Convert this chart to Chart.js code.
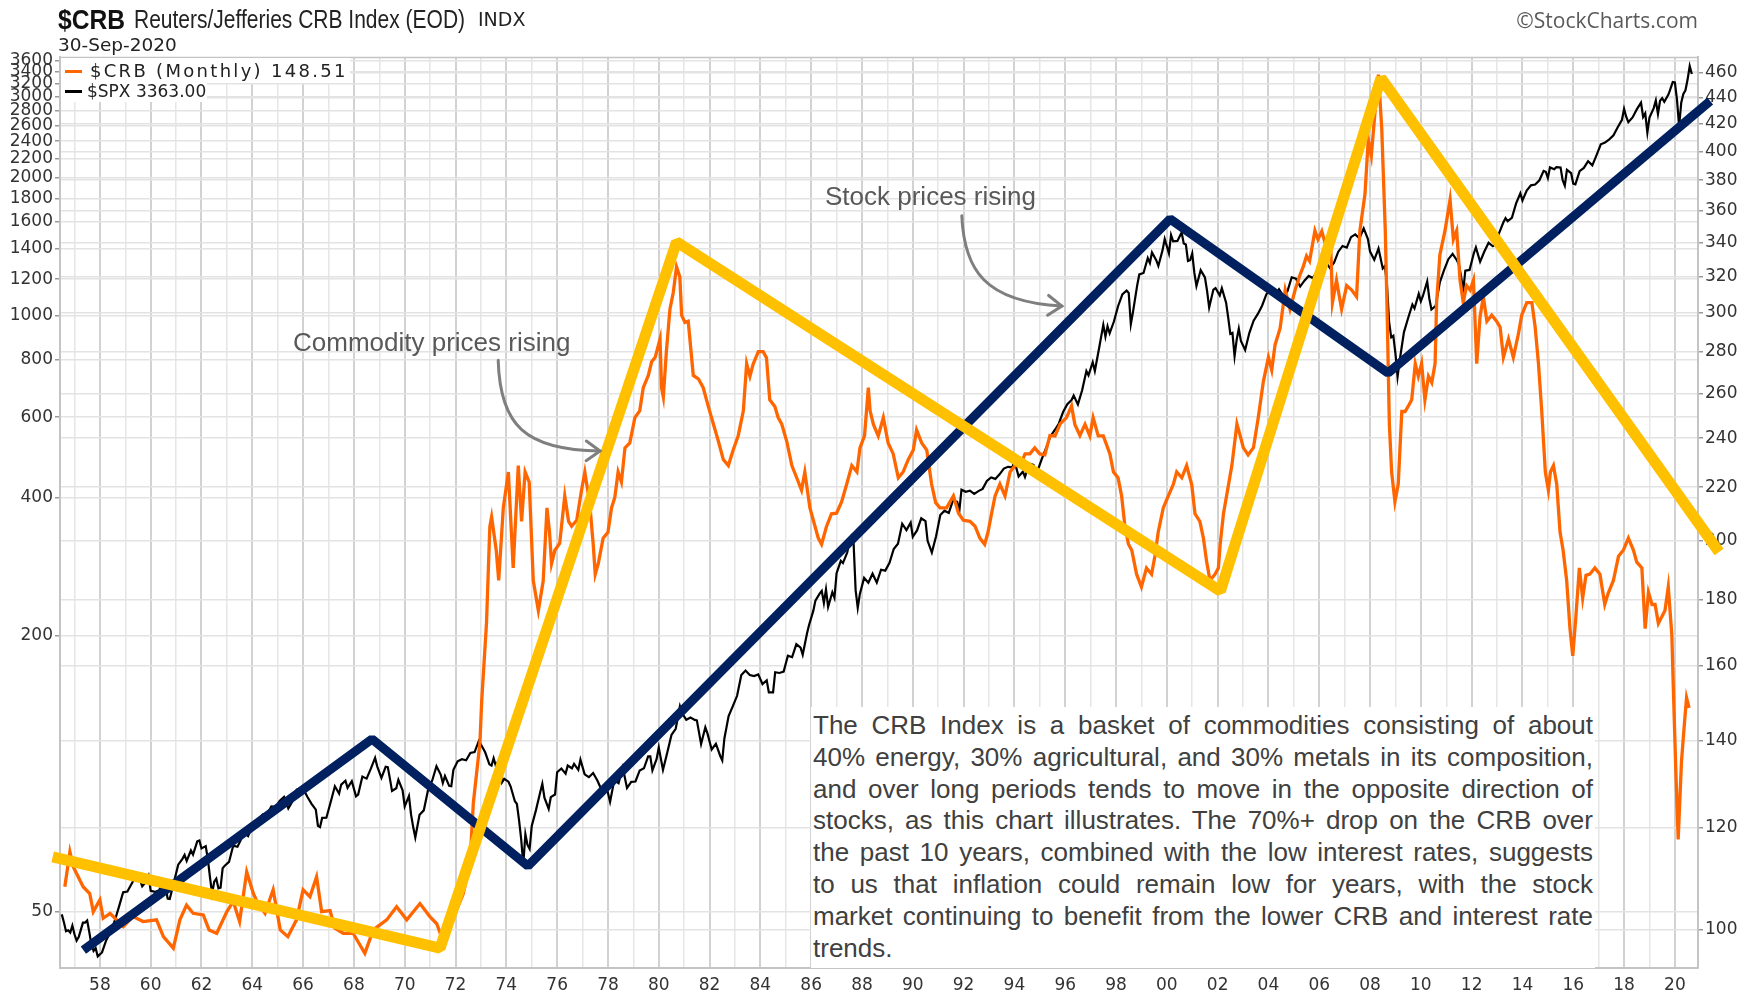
<!DOCTYPE html>
<html>
<head>
<meta charset="utf-8">
<title>$CRB vs $SPX</title>
<script src="https://cdn.jsdelivr.net/npm/chart.js@4.4.0/dist/chart.umd.min.js"></script>
<style>
  body { margin: 0; background: #fff; }
  #wrap { position: relative; width: 1756px; height: 995px; overflow: hidden; }
  #chart { position: absolute; left: 0; top: 0; }
  .txt { position: absolute; white-space: nowrap; }
  #sym { left: 58px; top: 4px; line-height: 30px; font: bold 28px "Liberation Sans", sans-serif; color: #111;
         transform: scaleX(0.88); transform-origin: left center; }
  #name { left: 134px; top: 5px; line-height: 30px; font: 25px "Liberation Sans", sans-serif; color: #222;
          transform: scaleX(0.84); transform-origin: left center; }
  #exch { left: 478px; top: 8px; line-height: 24px; font: 19px "DejaVu Sans", sans-serif; color: #222; }
  #date { left: 58px; top: 34px; line-height: 22px; font: 18.5px "DejaVu Sans", sans-serif; color: #222; }
  #mark { right: 58px; top: 6px; line-height: 26px; font: 21px "Open Sans", sans-serif; color: #5a5a5a; }
  .leg { position: absolute; background: #fff; }
  .dash { position: absolute; width: 17px; height: 3px; }
  .legtxt { position: absolute; top: 0; white-space: nowrap; font-family: "DejaVu Sans", sans-serif; color: #222; }
  .note-a { line-height: 30px; font: 26px "Liberation Sans", Arial, sans-serif; color: #595959; }
  #note { position: absolute; left: 811px; top: 707px; width: 784px; height: 261px; background: #fff; }
  #note .ln { position: absolute; left: 2px; width: 780px; height: 32px; line-height: 32px;
              font: 26px "Liberation Sans", Arial, sans-serif; color: #404040;
              text-align: justify; text-align-last: justify; }
  #note .ln.last { text-align-last: left; }
</style>
</head>
<body>
<div id="wrap">
  <canvas id="chart" width="1756" height="995"></canvas>

  <div class="txt" id="sym">$CRB</div>
  <div class="txt" id="name">Reuters/Jefferies CRB Index (EOD)</div>
  <div class="txt" id="exch">INDX</div>
  <div class="txt" id="date">30-Sep-2020</div>
  <div class="txt" id="mark">©StockCharts.com</div>

  <div class="leg" style="left:61px; top:58px; width:289px; height:25px;">
    <div class="dash" style="left:4px; top:12px; background:#ff6600;"></div>
    <div class="legtxt" style="left:29px; line-height:26px; font-size:18px; letter-spacing:2.3px;">$CRB (Monthly) 148.51</div>
  </div>
  <div class="leg" style="left:61px; top:83px; width:146px; height:19px;">
    <div class="dash" style="left:4px; top:7px; background:#000;"></div>
    <div class="legtxt" style="left:26px; line-height:17px; font-size:17px;">$SPX 3363.00</div>
  </div>

  <div class="txt note-a" style="left:293px; top:327px;">Commodity prices rising</div>
  <div class="txt note-a" style="left:825px; top:181px;">Stock prices rising</div>

  <div id="note"></div>
</div>

<script>
// axis ticks
const spxTicks = [50, 200, 400, 600, 800, 1000, 1200, 1400, 1600, 1800, 2000,
  2200, 2400, 2600, 2800, 3000, 3200, 3400, 3600];
const crbTicks = [100, 120, 140, 160, 180, 200, 220, 240, 260, 280, 300,
  320, 340, 360, 380, 400, 420, 440, 460];
const firstYear = 1957;
const lastYear = 2020;

// visible ranges
const xMin = 1956.43, xMax = 2020.91;
const spxMin = 37.74, spxMax = 3664;
const crbMin = 93.44, crbMax = 473.2;

// $SPX monthly closes
const spxMonths = [
  '1956-07','1956-08','1956-09','1956-10','1956-11','1956-12','1957-01','1957-02','1957-03','1957-04',
  '1957-05','1957-06','1957-07','1957-08','1957-09','1957-10','1957-11','1957-12','1958-02','1958-04',
  '1958-06','1958-08','1958-10','1958-12','1959-02','1959-04','1959-05','1959-07','1959-09','1959-11',
  '1959-12','1960-01','1960-03','1960-05','1960-06','1960-07','1960-08','1960-09','1960-10','1960-12',
  '1961-02','1961-04','1961-05','1961-06','1961-08','1961-09','1961-11','1961-12','1962-01','1962-03',
  '1962-04','1962-05','1962-06','1962-07','1962-08','1962-09','1962-10','1962-11','1962-12','1963-02',
  '1963-04','1963-06','1963-08','1963-10','1963-11','1963-12','1964-03','1964-06','1964-08','1964-10',
  '1964-12','1965-02','1965-04','1965-06','1965-08','1965-10','1965-12','1966-01','1966-03','1966-05',
  '1966-07','1966-08','1966-09','1966-10','1966-12','1967-02','1967-04','1967-06','1967-07','1967-09',
  '1967-10','1967-12','1968-02','1968-03','1968-05','1968-07','1968-09','1968-11','1968-12','1969-02',
  '1969-04','1969-05','1969-06','1969-07','1969-09','1969-10','1969-12','1970-01','1970-03','1970-04',
  '1970-05','1970-06','1970-08','1970-10','1970-12','1971-02','1971-04','1971-06','1971-07','1971-08',
  '1971-10','1971-11','1971-12','1972-02','1972-04','1972-06','1972-08','1972-10','1972-12','1973-01',
  '1973-03','1973-05','1973-06','1973-07','1973-08','1973-10','1973-11','1973-12','1974-02','1974-03',
  '1974-05','1974-06','1974-07','1974-08','1974-09','1974-10','1974-11','1974-12','1975-01','1975-03',
  '1975-05','1975-06','1975-07','1975-09','1975-10','1975-12','1976-01','1976-03','1976-05','1976-06',
  '1976-08','1976-09','1976-11','1976-12','1977-02','1977-04','1977-06','1977-08','1977-10','1977-12',
  '1978-02','1978-04','1978-06','1978-08','1978-10','1978-12','1979-02','1979-04','1979-06','1979-08',
  '1979-09','1979-10','1979-12','1980-01','1980-03','1980-05','1980-07','1980-09','1980-11','1980-12',
  '1981-02','1981-04','1981-06','1981-07','1981-09','1981-11','1981-12','1982-02','1982-04','1982-06',
  '1982-07','1982-08','1982-10','1982-12','1983-02','1983-04','1983-06','1983-08','1983-10','1983-12',
  '1984-02','1984-04','1984-05','1984-07','1984-08','1984-10','1984-12','1985-02','1985-04','1985-06',
  '1985-08','1985-09','1985-11','1985-12','1986-02','1986-03','1986-05','1986-06','1986-07','1986-08',
  '1986-09','1986-11','1986-12','1987-01','1987-03','1987-04','1987-06','1987-07','1987-08','1987-09',
  '1987-10','1987-11','1987-12','1988-02','1988-04','1988-06','1988-08','1988-10','1988-12','1989-02',
  '1989-04','1989-06','1989-08','1989-10','1989-12','1990-01','1990-03','1990-05','1990-07','1990-08',
  '1990-10','1990-12','1991-02','1991-04','1991-06','1991-08','1991-10','1991-11','1991-12','1992-02',
  '1992-04','1992-06','1992-08','1992-10','1992-12','1993-02','1993-04','1993-06','1993-08','1993-10',
  '1993-12','1994-01','1994-03','1994-05','1994-06','1994-08','1994-10','1994-11','1994-12','1995-02',
  '1995-04','1995-06','1995-08','1995-10','1995-12','1996-02','1996-04','1996-05','1996-07','1996-09',
  '1996-11','1996-12','1997-02','1997-03','1997-05','1997-07','1997-08','1997-09','1997-10','1997-12',
  '1998-02','1998-04','1998-06','1998-07','1998-08','1998-09','1998-11','1998-12','1999-02','1999-04',
  '1999-05','1999-06','1999-08','1999-09','1999-11','1999-12','2000-02','2000-03','2000-04','2000-06',
  '2000-08','2000-09','2000-10','2000-11','2000-12','2001-01','2001-02','2001-03','2001-05','2001-07',
  '2001-08','2001-09','2001-11','2001-12','2002-02','2002-03','2002-05','2002-06','2002-07','2002-08',
  '2002-09','2002-10','2002-11','2002-12','2003-02','2003-04','2003-06','2003-08','2003-10','2003-12',
  '2004-02','2004-04','2004-06','2004-08','2004-10','2004-12','2005-02','2005-04','2005-06','2005-08',
  '2005-10','2005-12','2006-02','2006-04','2006-06','2006-08','2006-10','2006-12','2007-02','2007-04',
  '2007-06','2007-08','2007-10','2007-12','2008-01','2008-03','2008-05','2008-07','2008-08','2008-09',
  '2008-10','2008-11','2008-12','2009-01','2009-02','2009-03','2009-05','2009-07','2009-09','2009-10',
  '2009-12','2010-01','2010-02','2010-04','2010-05','2010-06','2010-08','2010-10','2010-12','2011-02',
  '2011-04','2011-06','2011-07','2011-08','2011-09','2011-10','2011-12','2012-02','2012-03','2012-05',
  '2012-07','2012-09','2012-11','2012-12','2013-02','2013-04','2013-05','2013-06','2013-08','2013-10',
  '2013-12','2014-01','2014-03','2014-05','2014-07','2014-09','2014-11','2014-12','2015-01','2015-02',
  '2015-04','2015-05','2015-07','2015-08','2015-09','2015-10','2015-12','2016-01','2016-02','2016-04',
  '2016-06','2016-08','2016-10','2016-12','2017-02','2017-04','2017-06','2017-08','2017-10','2017-12',
  '2018-01','2018-02','2018-03','2018-05','2018-07','2018-09','2018-10','2018-11','2018-12','2019-01',
  '2019-03','2019-04','2019-05','2019-06','2019-07','2019-08','2019-10','2019-12','2020-01','2020-02',
  '2020-03','2020-04','2020-05','2020-06','2020-07','2020-08','2020-09'
];
const spxValues = [
  49.4, 47.5, 45.4, 45.6, 45.1, 46.7, 44.7, 43.3, 44.1, 45.7,
  47.4, 47.4, 47.9, 45.2, 42.4, 41.1, 41.7, 40.0, 40.8, 43.4,
  45.2, 47.8, 51.3, 55.2, 55.4, 57.6, 58.7, 60.5, 56.9, 58.3,
  59.9, 55.6, 55.3, 55.8, 56.9, 55.5, 56.9, 53.5, 53.4, 58.1,
  63.4, 65.3, 66.6, 64.6, 68.1, 66.7, 71.3, 71.6, 68.8, 69.6,
  65.2, 59.6, 54.8, 58.2, 59.1, 56.3, 56.5, 62.3, 63.1, 64.3,
  69.8, 69.4, 72.5, 74.0, 73.2, 75.0, 79.0, 81.7, 81.8, 85.0,
  84.8, 87.4, 89.1, 84.1, 87.2, 92.4, 92.4, 92.9, 89.2, 86.1,
  83.6, 77.1, 76.6, 80.2, 80.3, 86.8, 94.0, 90.6, 94.8, 96.7,
  93.3, 96.5, 89.4, 90.2, 98.7, 97.7, 102.7, 108.4, 103.9, 98.1,
  103.7, 103.5, 97.7, 91.8, 93.1, 97.1, 92.1, 85.0, 89.6, 81.5,
  76.6, 72.7, 81.5, 83.3, 92.2, 96.8, 103.95, 99.7, 95.6, 99.0,
  94.2, 94.0, 102.1, 106.6, 107.7, 107.1, 111.1, 111.6, 118.05, 116.0,
  111.5, 104.95, 104.3, 108.2, 104.3, 108.3, 96.0, 97.6, 96.2, 94.0,
  87.3, 86.0, 79.3, 72.2, 63.5, 73.9, 70.0, 68.6, 77.0, 83.4,
  91.2, 95.2, 88.75, 83.9, 89.0, 90.2, 100.9, 102.8, 100.2, 104.3,
  102.9, 105.2, 102.1, 107.5, 99.8, 98.4, 100.5, 96.8, 92.3, 95.1,
  87.0, 97.0, 95.5, 103.3, 93.2, 96.1, 96.3, 101.8, 102.9, 109.3,
  109.3, 101.8, 107.9, 114.2, 102.1, 111.2, 121.7, 125.5, 140.5, 135.8,
  131.3, 132.8, 131.2, 130.9, 116.2, 126.4, 122.6, 113.1, 116.4, 109.6,
  107.1, 119.5, 133.7, 140.6, 148.1, 164.4, 168.1, 164.4, 163.6, 164.9,
  157.1, 160.1, 150.6, 150.7, 166.7, 166.1, 167.2, 181.2, 179.8, 191.9,
  188.6, 182.1, 202.2, 211.3, 226.9, 238.9, 247.4, 250.8, 236.1, 252.9,
  231.3, 249.2, 242.2, 274.1, 291.7, 288.4, 304.0, 318.7, 329.8, 321.8,
  251.8, 230.3, 247.1, 267.8, 261.3, 273.5, 261.5, 279.0, 277.7, 288.9,
  309.6, 318.0, 351.5, 340.4, 353.4, 329.1, 339.9, 361.2, 356.2, 322.6,
  304.0, 330.2, 367.1, 375.3, 371.2, 395.4, 392.5, 375.2, 417.1, 412.7,
  415.0, 408.1, 414.0, 418.7, 435.7, 443.4, 440.2, 450.5, 463.6, 467.8,
  466.5, 481.6, 445.8, 456.5, 444.3, 475.5, 472.4, 453.7, 459.3, 487.4,
  514.7, 544.8, 562.1, 581.5, 615.9, 640.4, 654.2, 669.1, 639.9, 687.3,
  757.0, 740.7, 790.8, 757.1, 848.3, 954.3, 899.5, 947.3, 914.6, 970.4,
  1049.3, 1111.8, 1133.8, 1120.7, 957.3, 1017.0, 1163.6, 1229.2, 1238.3, 1335.2,
  1301.8, 1372.7, 1320.4, 1282.7, 1389.0, 1469.3, 1366.4, 1498.6, 1452.4, 1454.6,
  1517.7, 1436.5, 1429.4, 1315.2, 1320.3, 1366.0, 1239.9, 1160.3, 1255.8, 1211.2,
  1133.6, 1040.9, 1139.5, 1148.1, 1106.7, 1147.4, 1067.1, 989.8, 911.6, 916.1,
  815.3, 885.8, 936.3, 879.8, 841.2, 916.9, 974.5, 1008.0, 1050.7, 1111.9,
  1145.0, 1107.3, 1140.8, 1104.2, 1130.2, 1211.9, 1203.6, 1156.9, 1191.3, 1220.3,
  1207.0, 1248.3, 1280.7, 1310.6, 1270.2, 1303.8, 1377.9, 1418.3, 1406.8, 1482.4,
  1503.4, 1474.0, 1549.4, 1468.4, 1378.6, 1322.7, 1400.4, 1267.4, 1282.8, 1166.4,
  968.8, 896.2, 903.3, 825.9, 735.1, 797.9, 919.1, 987.5, 1057.1, 1036.2,
  1115.1, 1073.9, 1104.5, 1186.7, 1089.4, 1030.7, 1049.3, 1183.3, 1257.6, 1327.2,
  1363.6, 1320.6, 1292.3, 1218.9, 1131.4, 1253.3, 1257.6, 1365.7, 1408.5, 1310.3,
  1379.3, 1440.7, 1416.2, 1426.2, 1514.7, 1597.6, 1630.7, 1606.3, 1633.0, 1756.5,
  1848.4, 1782.6, 1872.3, 1923.6, 1930.7, 1972.3, 2067.6, 2058.9, 1995.0, 2104.5,
  2085.5, 2107.4, 2103.8, 1972.2, 1920.0, 2079.4, 2043.9, 1940.2, 1932.2, 2065.3,
  2098.9, 2171.0, 2126.2, 2238.8, 2363.6, 2384.2, 2423.4, 2471.7, 2575.3, 2673.6,
  2823.8, 2713.8, 2640.9, 2705.3, 2816.3, 2914.0, 2711.7, 2760.2, 2506.9, 2704.1,
  2834.4, 2945.8, 2752.1, 2941.8, 2980.4, 2926.5, 3037.6, 3230.8, 3225.5, 2954.2,
  2584.6, 2912.4, 3044.3, 3100.3, 3271.1, 3500.3, 3363.0
];

// $CRB monthly, positions (decimal years)
const crbDates = [
  1956.62, 1956.82, 1956.95, 1957.34, 1957.6, 1957.74, 1958.0, 1958.13, 1958.4, 1958.92,
  1959.3, 1959.7, 1960.23, 1960.5, 1960.89, 1961.15, 1961.41, 1961.67, 1962.07, 1962.3,
  1962.6, 1963.0, 1963.25, 1963.5, 1963.78, 1964.04, 1964.2, 1964.5, 1964.82, 1965.1,
  1965.4, 1965.74, 1966.0, 1966.27, 1966.53, 1966.73, 1967.06, 1967.25, 1967.58, 1967.97,
  1968.43, 1968.76, 1969.29, 1969.68, 1970.08, 1970.6, 1970.99, 1971.26, 1971.52, 1971.92,
  1972.3, 1972.57, 1972.7, 1972.96, 1973.03, 1973.22, 1973.35, 1973.42, 1973.6, 1973.7,
  1973.88, 1974.08, 1974.27, 1974.47, 1974.6, 1974.74, 1974.9, 1975.06, 1975.26, 1975.45,
  1975.6, 1975.7, 1975.78, 1975.91, 1976.1, 1976.3, 1976.45, 1976.57, 1976.77, 1976.96,
  1977.09, 1977.28, 1977.42, 1977.5, 1977.62, 1977.81, 1978.0, 1978.14, 1978.27, 1978.4,
  1978.53, 1978.67, 1978.86, 1979.06, 1979.25, 1979.39, 1979.59, 1979.72, 1979.86, 1980.05,
  1980.11, 1980.18, 1980.3, 1980.44, 1980.57, 1980.7, 1980.83, 1980.9, 1981.03, 1981.16,
  1981.36, 1981.56, 1981.75, 1981.95, 1982.15, 1982.35, 1982.54, 1982.74, 1982.93, 1983.13,
  1983.33, 1983.46, 1983.59, 1983.72, 1983.92, 1984.11, 1984.24, 1984.37, 1984.57, 1984.7,
  1984.84, 1985.04, 1985.24, 1985.43, 1985.62, 1985.75, 1985.95, 1986.15, 1986.28, 1986.41,
  1986.6, 1986.8, 1987.0, 1987.2, 1987.4, 1987.6, 1987.8, 1987.92, 1988.1, 1988.25,
  1988.32, 1988.45, 1988.64, 1988.84, 1989.03, 1989.23, 1989.43, 1989.62, 1989.82, 1990.02,
  1990.15, 1990.35, 1990.55, 1990.74, 1990.9, 1991.07, 1991.33, 1991.6, 1991.8, 1991.99,
  1992.25, 1992.45, 1992.64, 1992.83, 1992.96, 1993.1, 1993.24, 1993.43, 1993.63, 1993.83,
  1994.02, 1994.22, 1994.42, 1994.61, 1994.8, 1995.0, 1995.2, 1995.4, 1995.6, 1995.8,
  1996.05, 1996.25, 1996.38, 1996.58, 1996.78, 1996.97, 1997.1, 1997.3, 1997.5, 1997.76,
  1997.9, 1998.08, 1998.22, 1998.35, 1998.49, 1998.62, 1998.81, 1999.0, 1999.2, 1999.4,
  1999.53, 1999.66, 1999.86, 2000.06, 2000.26, 2000.39, 2000.59, 2000.78, 2000.98, 2001.11,
  2001.3, 2001.44, 2001.57, 2001.7, 2001.9, 2002.03, 2002.1, 2002.23, 2002.43, 2002.56,
  2002.76, 2002.89, 2003.01, 2003.2, 2003.41, 2003.6, 2003.8, 2004.0, 2004.13, 2004.26,
  2004.46, 2004.66, 2004.85, 2005.05, 2005.24, 2005.37, 2005.5, 2005.62, 2005.83, 2005.95,
  2006.1, 2006.3, 2006.45, 2006.52, 2006.68, 2006.88, 2007.08, 2007.28, 2007.47, 2007.6,
  2007.8, 2007.93, 2008.05, 2008.2, 2008.33, 2008.46, 2008.6, 2008.68, 2008.76, 2008.85,
  2008.98, 2009.11, 2009.25, 2009.38, 2009.51, 2009.64, 2009.78, 2009.9, 2010.03, 2010.16,
  2010.3, 2010.43, 2010.56, 2010.62, 2010.75, 2010.95, 2011.15, 2011.28, 2011.41, 2011.54,
  2011.67, 2011.8, 2011.94, 2012.07, 2012.2, 2012.33, 2012.46, 2012.6, 2012.79, 2012.98,
  2013.12, 2013.25, 2013.45, 2013.64, 2013.84, 2013.97, 2014.17, 2014.37, 2014.5, 2014.63,
  2014.76, 2014.9, 2015.02, 2015.1, 2015.22, 2015.35, 2015.48, 2015.6, 2015.74, 2015.87,
  2015.98, 2016.1, 2016.24, 2016.37, 2016.5, 2016.65, 2016.85, 2017.05, 2017.24, 2017.37,
  2017.58, 2017.78, 2017.97, 2018.17, 2018.37, 2018.5, 2018.7, 2018.83, 2018.96, 2019.1,
  2019.22, 2019.35, 2019.48, 2019.61, 2019.74, 2019.88, 2019.94, 2020.04, 2020.13, 2020.26,
  2020.39, 2020.46, 2020.56
];
const crbValues = [
  108.0, 114.9, 111.9, 108.0, 106.7, 103.3, 105.5, 102.1, 103.0, 100.6,
  102.4, 101.5, 101.8, 98.8, 96.8, 101.8, 104.5, 103.0, 102.7, 100.0,
  99.4, 103.3, 105.2, 101.5, 110.9, 106.7, 105.0, 103.0, 107.4, 100.0,
  98.8, 101.8, 107.4, 106.1, 109.9, 103.3, 103.5, 100.3, 99.4, 99.4,
  95.9, 100.0, 101.8, 104.2, 101.8, 104.8, 102.4, 101.1, 97.9, 102.2,
  106.6, 112.5, 125.3, 139.5, 150.3, 172.8, 205.0, 208.6, 196.8, 186.3,
  212.0, 226.0, 190.5, 228.6, 207.0, 226.0, 222.0, 186.3, 176.6, 186.0,
  212.0, 203.0, 192.0, 196.6, 199.0, 216.6, 207.0, 205.2, 207.4, 218.8,
  226.0, 214.0, 198.7, 188.4, 192.0, 200.9, 203.0, 212.0, 216.0, 226.0,
  222.0, 235.9, 238.0, 249.0, 252.0, 262.6, 268.4, 275.0, 277.2, 286.4,
  262.6, 258.3, 280.0, 302.0, 311.0, 325.7, 320.0, 298.8, 295.0, 295.6,
  268.4, 266.8, 262.6, 254.0, 246.2, 238.6, 231.1, 228.6, 235.0, 241.2,
  252.0, 274.1, 268.0, 274.0, 280.0, 280.0, 277.0, 257.0, 254.0, 249.0,
  246.2, 238.6, 228.6, 223.7, 218.8, 226.0, 212.0, 205.2, 200.9, 198.7,
  205.0, 209.8, 210.0, 214.4, 221.2, 228.6, 226.0, 235.9, 241.0, 262.6,
  252.0, 246.0, 241.0, 249.0, 238.0, 233.4, 223.7, 226.0, 231.0, 235.0,
  243.6, 238.0, 235.0, 221.2, 214.0, 212.0, 212.0, 216.6, 210.0, 207.4,
  207.0, 205.2, 200.9, 198.7, 203.0, 209.8, 216.6, 221.2, 216.6, 226.0,
  228.6, 228.6, 233.4, 233.4, 235.9, 233.4, 233.0, 241.2, 241.0, 246.2,
  249.0, 254.2, 246.0, 241.2, 246.0, 241.0, 249.0, 241.0, 241.0, 233.4,
  226.0, 223.7, 216.6, 205.2, 198.7, 196.6, 188.4, 184.2, 190.5, 188.4,
  194.5, 203.0, 212.0, 216.6, 221.2, 226.0, 223.7, 228.6, 221.0, 209.8,
  207.0, 200.9, 192.5, 186.3, 188.4, 190.5, 198.7, 209.8, 221.0, 228.6,
  246.2, 241.0, 236.0, 233.0, 236.0, 249.0, 265.5, 277.2, 271.0, 283.4,
  292.0, 312.5, 302.0, 312.5, 321.0, 325.8, 332.0, 329.0, 347.3, 342.0,
  347.0, 336.0, 339.6, 305.6, 318.0, 302.0, 315.0, 312.5, 308.8, 347.3,
  370.6, 408.5, 397.0, 430.0, 458.5, 417.0, 347.3, 295.6, 246.2, 226.0,
  214.4, 221.2, 251.7, 251.7, 254.2, 257.0, 274.1, 268.0, 274.1, 257.0,
  268.0, 265.0, 274.1, 305.6, 332.8, 347.3, 367.0, 342.0, 347.3, 318.3,
  305.6, 315.0, 312.5, 318.0, 274.1, 298.0, 308.8, 295.6, 298.8, 295.6,
  292.5, 277.2, 286.4, 277.2, 289.0, 298.8, 305.6, 305.6, 292.5, 274.1,
  251.7, 226.0, 218.8, 226.0, 228.6, 221.0, 203.0, 196.6, 186.3, 171.0,
  162.9, 174.4, 190.5, 180.5, 188.0, 188.4, 190.5, 188.4, 178.5, 182.0,
  186.3, 194.5, 196.6, 200.9, 196.6, 192.5, 190.5, 171.0, 182.4, 178.5,
  178.5, 172.6, 174.6, 176.6, 184.2, 169.1, 153.6, 132.2, 117.5, 135.0,
  145.6, 151.2, 148.51
];

// hand drawn trend lines: commodity (right axis) and stock (left axis)
const crbTrendDates = [1956.14, 1971.39, 1980.70, 2002.11, 2008.43, 2021.74];
const crbTrendValues = [113.9, 96.8, 340.4, 182.8, 455.8, 196.0];
const spxTrendDates = [1957.35, 1968.71, 1974.85, 2000.13, 2008.71, 2021.39];
const spxTrendValues = [41.3, 119.2, 63.0, 1624, 749.5, 2937];

// callout arrows, in (year, CRB value) units
const arrowCurves = [
  { from: [1973.68, 275.7], c1: [1973.75, 245.7], c2: [1974.73, 235.0], to: [1977.69, 234.6] },
  { from: [1991.93, 356.7], c1: [1992.02, 323.8], c2: [1992.84, 305.9], to: [1995.87, 303.7] }
];

// text box lines
const noteLines = [
  'The CRB Index is a basket of commodities consisting of about',
  '40% energy, 30% agricultural, and 30% metals in its composition,',
  'and over long periods tends to move in the opposite direction of',
  'stocks, as this chart illustrates. The 70%+ drop on the CRB over',
  'the past 10 years, combined with the low interest rates, suggests',
  'to us that inflation could remain low for years, with the stock',
  'market continuing to benefit from the lower CRB and interest rate',
  'trends.'
];

// build the note box
const noteBox = document.getElementById('note');
noteLines.forEach((s, i) => {
  const d = document.createElement('div');
  d.className = 'ln' + (i === noteLines.length - 1 ? ' last' : '');
  d.style.top = (3 + i * 31.83) + 'px';
  d.textContent = s;
  noteBox.appendChild(d);
});

function monthToYear(s) {
  const [y, m] = s.split('-').map(Number);
  return y + (m - 1) / 12;
}

const toPoints = (xs, ys) => xs.map((x, i) => ({ x: x, y: ys[i] }));

const yearTicks = [];
for (let y = firstYear; y <= lastYear; y++) yearTicks.push(y);

const tickFont = { family: 'DejaVu Sans', size: 17 };
const gridGray = '#e3e3e3';
const frameGray = '#c4c4c4';

// top frame line + arrows
const decorPlugin = {
  id: 'decor',
  beforeDatasetsDraw(chart) {
    const { ctx, chartArea } = chart;
    ctx.save();
    ctx.strokeStyle = frameGray;
    ctx.lineWidth = 1.5;
    ctx.beginPath();
    ctx.moveTo(chartArea.left, chartArea.top + 0.5);
    ctx.lineTo(chartArea.right, chartArea.top + 0.5);
    ctx.stroke();
    ctx.restore();
  },
  afterDatasetsDraw(chart) {
    const { ctx } = chart;
    const xs = chart.scales.x;
    const ys = chart.scales.yCrb;
    const px = p => [xs.getPixelForValue(p[0]), ys.getPixelForValue(p[1])];
    ctx.save();
    ctx.strokeStyle = '#7f7f7f';
    ctx.lineWidth = 3;
    ctx.lineCap = 'round';
    ctx.lineJoin = 'miter';
    arrowCurves.forEach(a => {
      const f = px(a.from), c1 = px(a.c1), c2 = px(a.c2), t = px(a.to);
      ctx.beginPath();
      ctx.moveTo(f[0], f[1]);
      ctx.bezierCurveTo(c1[0], c1[1], c2[0], c2[1], t[0], t[1]);
      ctx.stroke();
      // open arrow head
      const ang = Math.atan2(t[1] - c2[1], t[0] - c2[0]);
      const len = 17, spread = 0.62;
      ctx.beginPath();
      ctx.moveTo(t[0] - len * Math.cos(ang - spread), t[1] - len * Math.sin(ang - spread));
      ctx.lineTo(t[0], t[1]);
      ctx.lineTo(t[0] - len * Math.cos(ang + spread), t[1] - len * Math.sin(ang + spread));
      ctx.stroke();
    });
    ctx.restore();
  }
};

new Chart(document.getElementById('chart').getContext('2d'), {
  type: 'line',
  data: {
    datasets: [
      {
        label: '$SPX',
        data: toPoints(spxMonths.map(monthToYear), spxValues),
        yAxisID: 'ySpx',
        borderColor: '#000000',
        borderWidth: 2.2,
        order: 3
      },
      {
        label: '$CRB (Monthly)',
        data: toPoints(crbDates, crbValues),
        yAxisID: 'yCrb',
        borderColor: '#ff6600',
        borderWidth: 3.3,
        order: 2
      },
      {
        label: 'stock trend',
        data: toPoints(spxTrendDates, spxTrendValues),
        yAxisID: 'ySpx',
        borderColor: '#002060',
        borderWidth: 9,
        borderJoinStyle: 'bevel',
        clip: false,
        order: 1
      },
      {
        label: 'commodity trend',
        data: toPoints(crbTrendDates, crbTrendValues),
        yAxisID: 'yCrb',
        borderColor: '#ffc000',
        borderWidth: 11,
        borderJoinStyle: 'bevel',
        clip: false,
        order: 0
      }
    ]
  },
  options: {
    responsive: false,
    animation: false,
    events: [],
    layout: { padding: { top: 57, left: 0, right: 0, bottom: 0 } },
    elements: { point: { radius: 0 }, line: { tension: 0 } },
    plugins: { legend: { display: false }, tooltip: { enabled: false } },
    scales: {
      x: {
        type: 'linear',
        min: xMin,
        max: xMax,
        bounds: 'data',
        afterBuildTicks: s => { s.ticks = yearTicks.map(v => ({ value: v })); },
        afterFit: s => { s.height = 27; },
        grid: {
          drawTicks: false,
          color: c => (c.tick && c.tick.value % 2 === 0) ? '#d2d2d2' : '#e6e6e6',
          lineWidth: c => (c.tick && c.tick.value % 2 === 0) ? 2 : 1.5
        },
        border: { color: frameGray, width: 2 },
        ticks: {
          autoSkip: false,
          maxRotation: 0,
          padding: 7,
          font: tickFont,
          color: '#333',
          callback: v => (v % 2 === 0 ? String(v).slice(2) : '')
        }
      },
      ySpx: {
        type: 'logarithmic',
        position: 'left',
        min: spxMin,
        max: spxMax,
        bounds: 'data',
        afterBuildTicks: s => { s.ticks = spxTicks.map(v => ({ value: v })); },
        afterFit: s => { s.width = 60; },
        grid: { color: gridGray, lineWidth: 1.5, tickLength: 5, tickColor: '#999' },
        border: { color: frameGray, width: 2 },
        ticks: { autoSkip: false, padding: 2, font: tickFont, color: '#333', callback: v => String(v) }
      },
      yCrb: {
        type: 'logarithmic',
        position: 'right',
        min: crbMin,
        max: crbMax,
        bounds: 'data',
        afterBuildTicks: s => { s.ticks = crbTicks.map(v => ({ value: v })); },
        afterFit: s => { s.width = 58; },
        grid: { color: gridGray, lineWidth: 1.5, tickLength: 5, tickColor: '#999' },
        border: { color: frameGray, width: 2 },
        ticks: { autoSkip: false, padding: 2, font: tickFont, color: '#333', callback: v => String(v) }
      }
    }
  },
  plugins: [decorPlugin]
});
</script>
</body>
</html>
